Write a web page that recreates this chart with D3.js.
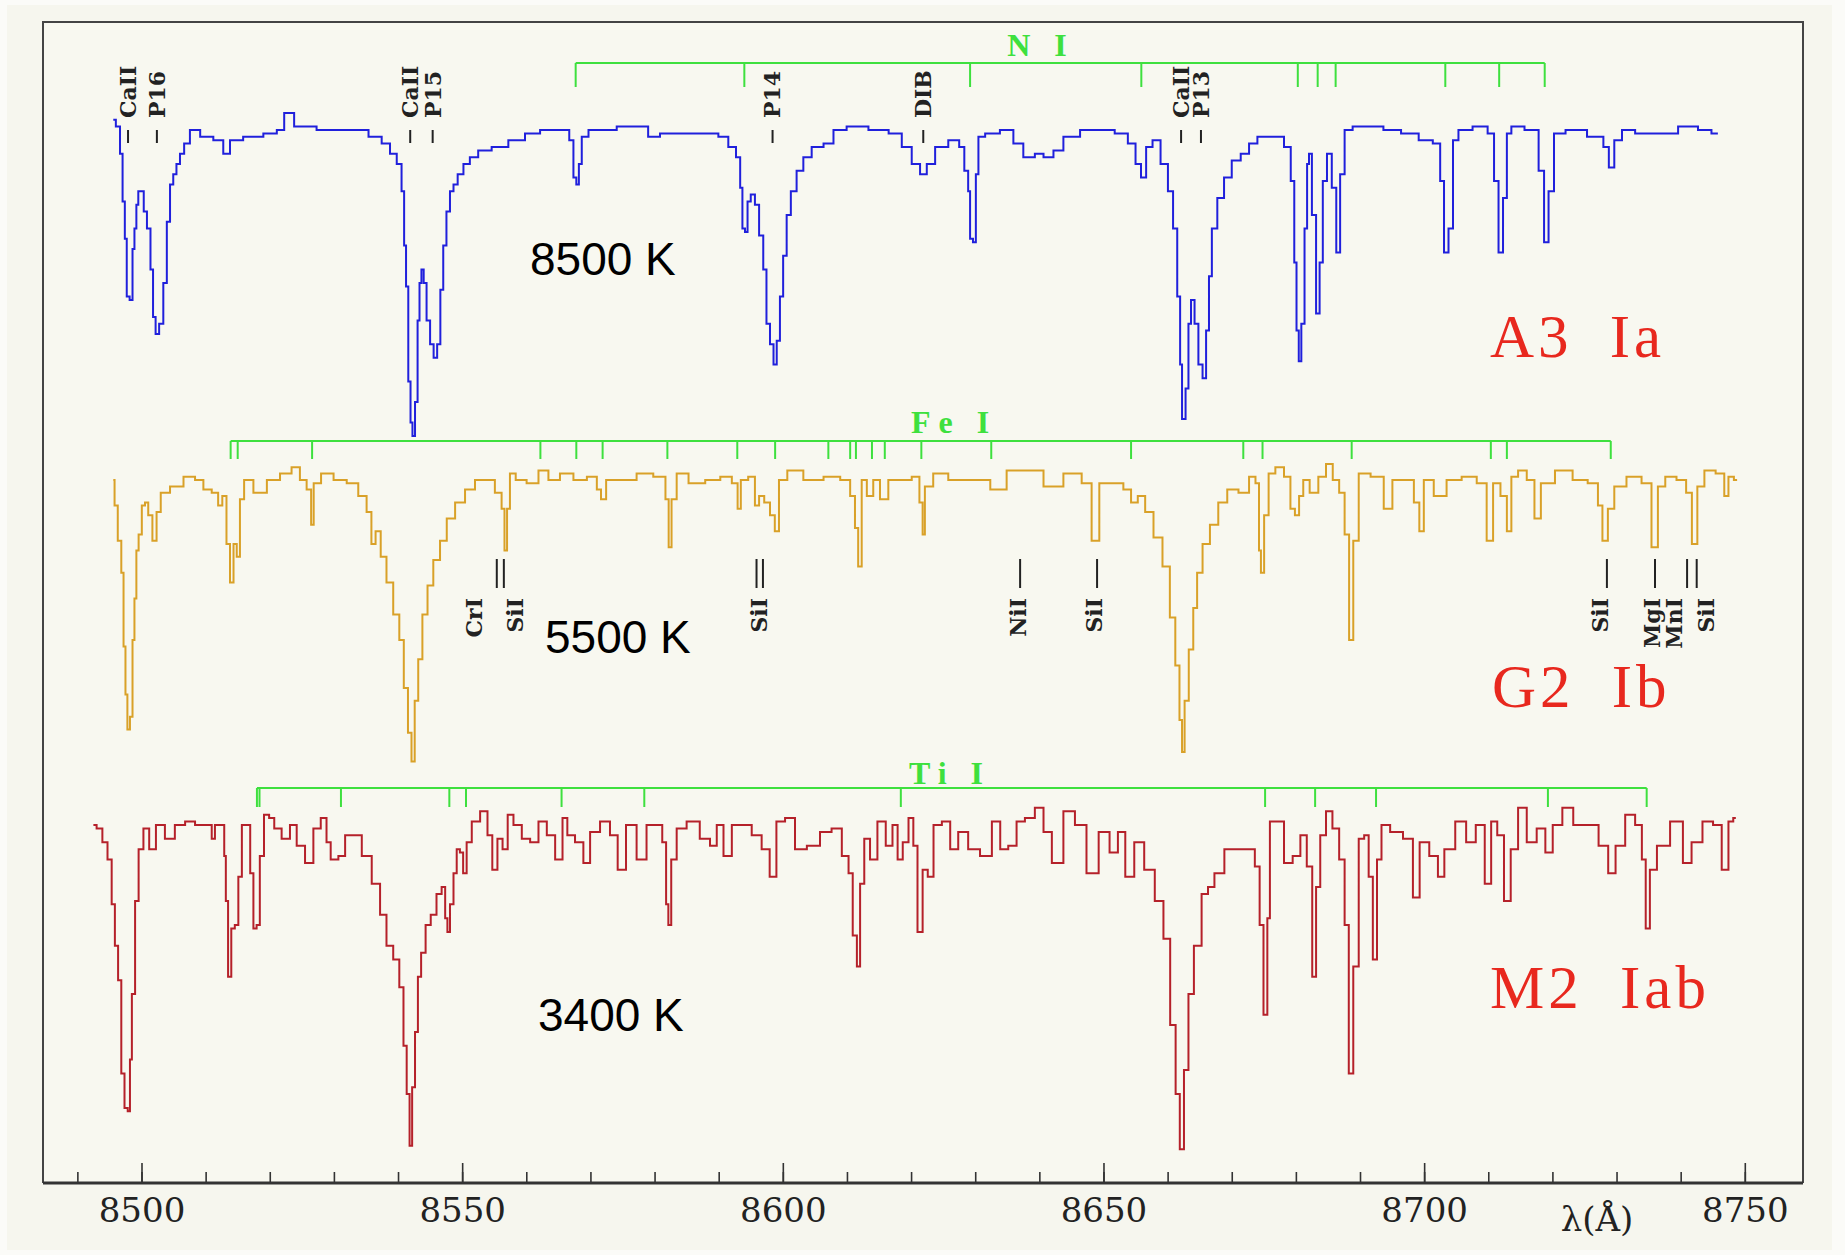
<!DOCTYPE html>
<html>
<head>
<meta charset="utf-8">
<script src="https://d3js.org/d3.v7.min.js"></script>
<style>
  body { margin: 0; background: #fbfbf8; }
  svg { display: block; }
  .axis text { font-family: 'DejaVu Serif', serif; font-size: 34px; fill: #222; }
  .axis line { stroke: #333; stroke-width: 1.6; }
  .ident { font-family: 'DejaVu Serif', serif; font-size: 22px; font-weight: bold; fill: #222; }
  .ident-dash { stroke: #222; stroke-width: 2; }
  .sp-type { font-family: 'Liberation Serif', serif; font-size: 61px; letter-spacing: 4px; word-spacing: 18px; fill: #e8281e; }
  .temp { font-family: 'Liberation Sans', Arial, sans-serif; font-size: 46px; fill: #000; }
  .bracket-label { font-family: 'Liberation Serif', serif; font-size: 32px; font-weight: bold; letter-spacing: 8px; fill: #3ee03e; }
</style>
</head>
<body>
<svg id="chart"></svg>
<script>
// Spectra: [wavelength (A), normalised flux]
const a3Spectrum = [[8495.6,1.03],[8496.4,1.01],[8496.9,0.93],[8497.2,0.79],[8497.6,0.68],[8497.8,0.51],[8498.5,0.50],[8498.7,0.65],[8499.1,0.71],[8499.3,0.78],[8499.7,0.82],[8500.2,0.82],[8500.5,0.76],[8501.2,0.71],[8501.6,0.59],[8502.0,0.45],[8502.4,0.40],[8503.1,0.43],[8503.7,0.55],[8504.2,0.73],[8504.7,0.84],[8505.2,0.87],[8505.7,0.90],[8506.3,0.93],[8507.0,0.96],[8508.1,1.00],[8510.2,0.98],[8512.2,0.97],[8513.3,0.93],[8514.3,0.97],[8517.4,0.98],[8520.6,0.99],[8521.6,1.00],[8522.9,1.05],[8524.7,1.01],[8529.9,1.00],[8534.1,1.00],[8536.7,0.98],[8538.2,0.96],[8539.3,0.93],[8540.3,0.90],[8540.8,0.82],[8541.1,0.66],[8541.4,0.54],[8541.8,0.26],[8542.1,0.14],[8542.4,0.10],[8542.9,0.20],[8543.2,0.44],[8543.5,0.55],[8543.8,0.59],[8544.2,0.55],[8544.7,0.44],[8545.3,0.37],[8545.8,0.33],[8546.4,0.37],[8546.8,0.53],[8547.3,0.66],[8547.8,0.76],[8548.4,0.82],[8548.9,0.84],[8549.7,0.87],[8550.7,0.90],[8551.7,0.92],[8553.3,0.94],[8555.9,0.95],[8558.5,0.97],[8561.1,0.99],[8563.2,1.00],[8566.3,1.00],[8567.1,0.97],[8567.6,0.86],[8568.0,0.84],[8568.4,0.90],[8568.9,0.98],[8570.5,1.00],[8577.7,1.01],[8580.3,0.98],[8581.4,0.99],[8589.2,0.99],[8590.7,0.98],[8592.3,0.95],[8593.1,0.92],[8593.6,0.83],[8593.8,0.71],[8594.4,0.70],[8594.6,0.79],[8595.4,0.81],[8595.9,0.78],[8596.7,0.69],[8597.2,0.59],[8597.7,0.43],[8598.3,0.37],[8598.8,0.31],[8599.3,0.38],[8599.8,0.51],[8600.3,0.63],[8600.9,0.75],[8601.6,0.82],[8602.7,0.88],[8603.7,0.92],[8605.3,0.95],[8607.4,0.96],[8608.4,1.00],[8611.5,1.01],[8615.2,1.00],[8617.8,0.99],[8619.3,0.95],[8620.9,0.90],[8621.9,0.87],[8623.0,0.90],[8624.5,0.95],[8627.1,0.97],[8627.9,0.95],[8628.7,0.88],[8629.1,0.82],[8629.3,0.68],[8630.0,0.67],[8630.2,0.87],[8630.8,0.98],[8632.3,0.99],[8635.4,1.00],[8636.5,0.96],[8638.5,0.92],[8640.1,0.93],[8641.2,0.92],[8643.2,0.94],[8644.3,0.98],[8648.4,1.00],[8650.4,1.00],[8653.1,0.99],[8654.5,0.96],[8655.5,0.90],[8656.2,0.86],[8657.1,0.95],[8658.2,0.97],[8659.6,0.90],[8660.5,0.82],[8661.2,0.71],[8661.8,0.51],[8662.1,0.31],[8662.4,0.15],[8663.2,0.24],[8663.3,0.43],[8664.0,0.50],[8664.4,0.43],[8665.2,0.31],[8665.7,0.27],[8666.3,0.41],[8666.6,0.57],[8667.2,0.71],[8668.3,0.80],[8669.3,0.86],[8670.7,0.91],[8672.1,0.93],[8673.3,0.96],[8674.7,0.98],[8677.5,0.98],[8678.8,0.95],[8679.6,0.85],[8679.9,0.61],[8680.3,0.41],[8680.6,0.32],[8681.1,0.43],[8681.6,0.71],[8681.9,0.90],[8682.2,0.93],[8682.8,0.75],[8683.5,0.46],[8683.9,0.61],[8684.5,0.85],[8685.2,0.93],[8686.0,0.83],[8686.6,0.64],[8687.2,0.87],[8688.0,1.00],[8689.7,1.01],[8692.3,1.01],[8695.0,1.00],[8697.8,0.99],[8700.5,0.97],[8702.2,0.96],[8702.8,0.85],[8703.4,0.64],[8704.2,0.71],[8704.8,0.97],[8705.9,1.00],[8709.2,1.01],[8710.6,0.99],[8711.2,0.85],[8712.0,0.64],[8712.6,0.80],[8713.2,0.99],[8714.0,1.01],[8717.3,1.00],[8718.4,0.88],[8719.0,0.67],[8719.8,0.82],[8720.7,0.99],[8723.4,1.00],[8727.4,0.98],[8728.5,0.95],[8729.1,0.89],[8730.2,0.97],[8731.5,1.00],[8734.3,0.99],[8737.6,0.99],[8741.6,1.01],[8743.8,1.00],[8745.8,0.99]];

const g2Spectrum = [[8495.6,1.00],[8496.0,0.92],[8496.6,0.81],[8497.1,0.71],[8497.3,0.48],[8497.7,0.33],[8497.9,0.22],[8498.5,0.26],[8498.7,0.50],[8499.1,0.63],[8499.3,0.78],[8499.8,0.83],[8500.3,0.92],[8500.8,0.93],[8501.3,0.89],[8502.1,0.81],[8502.6,0.90],[8503.4,0.96],[8505.5,0.98],[8507.6,1.01],[8509.1,1.00],[8510.2,0.97],[8511.7,0.96],[8512.2,0.92],[8513.0,0.95],[8513.5,0.80],[8514.1,0.68],[8514.6,0.80],[8515.1,0.76],[8515.6,0.94],[8516.4,1.00],[8518.5,0.96],[8520.6,1.00],[8522.6,1.02],[8524.2,1.04],[8525.2,1.00],[8526.3,0.97],[8526.6,0.86],[8527.1,0.99],[8528.9,1.02],[8531.0,1.00],[8533.0,0.99],[8534.6,0.95],[8535.6,0.90],[8536.1,0.80],[8536.9,0.84],[8537.7,0.76],[8538.7,0.68],[8539.8,0.58],[8540.6,0.50],[8541.2,0.35],[8541.9,0.21],[8542.3,0.12],[8542.9,0.31],[8543.4,0.44],[8544.2,0.58],[8545.0,0.67],[8546.0,0.75],[8547.1,0.81],[8548.1,0.88],[8549.7,0.93],[8551.2,0.97],[8552.8,1.00],[8554.3,1.00],[8555.9,0.96],[8556.4,0.91],[8556.8,0.78],[8557.2,0.91],[8557.7,1.02],[8559.0,1.00],[8561.1,0.99],[8562.7,1.03],[8564.2,1.00],[8566.3,1.02],[8568.4,1.00],[8570.5,1.01],[8571.5,0.97],[8571.8,0.94],[8573.1,1.00],[8576.2,1.00],[8578.2,1.02],[8581.4,1.01],[8582.0,0.94],[8582.4,0.79],[8582.9,0.94],[8584.0,1.02],[8586.6,0.99],[8589.2,1.00],[8591.3,1.01],[8592.8,0.99],[8593.1,0.91],[8593.8,1.00],[8595.4,1.01],[8595.9,0.92],[8596.7,0.95],[8597.5,0.93],[8598.5,0.89],[8599.0,0.84],[8599.8,1.00],[8601.6,1.03],[8604.8,1.00],[8607.9,1.01],[8610.0,1.00],[8611.0,0.95],[8611.5,0.85],[8612.0,0.73],[8612.6,1.00],[8613.6,0.95],[8614.6,1.00],[8615.7,0.94],[8617.2,1.00],[8619.3,1.00],[8620.9,1.01],[8621.7,0.93],[8621.9,0.83],[8622.4,0.98],[8624.5,1.02],[8627.1,1.00],[8630.8,1.00],[8633.9,0.97],[8635.9,1.03],[8639.1,1.03],[8642.2,0.98],[8645.3,1.02],[8647.9,0.99],[8648.4,0.81],[8649.1,0.81],[8649.6,0.99],[8652.4,0.99],[8653.8,0.97],[8654.8,0.93],[8655.9,0.95],[8657.1,0.90],[8658.5,0.82],[8659.9,0.73],[8660.8,0.57],[8661.6,0.42],[8662.1,0.25],[8662.4,0.15],[8662.9,0.31],[8663.7,0.47],[8664.3,0.60],[8664.9,0.71],[8666.0,0.80],[8667.2,0.86],[8668.6,0.93],[8670.0,0.97],[8672.1,0.96],[8673.3,1.01],[8674.1,0.99],[8674.4,0.78],[8674.7,0.71],[8675.4,0.89],[8676.1,1.02],[8677.5,1.04],[8678.8,1.01],[8679.5,0.91],[8680.2,0.89],[8680.8,0.95],[8681.5,1.00],[8682.8,0.96],[8684.2,1.01],[8685.2,1.05],[8686.3,1.00],[8687.2,0.96],[8688.0,0.83],[8688.6,0.50],[8689.3,0.81],[8690.3,1.02],[8693.0,1.01],[8694.4,0.91],[8695.7,1.00],[8697.7,1.00],[8699.1,0.93],[8699.4,0.84],[8700.5,1.00],[8702.5,0.95],[8704.5,1.00],[8707.2,1.01],[8709.2,0.99],[8710.3,0.81],[8711.2,0.99],[8712.6,0.95],[8713.2,0.84],[8714.0,1.01],[8715.3,1.03],[8716.7,1.00],[8717.7,0.88],[8718.7,0.99],[8722.1,1.03],[8724.2,1.00],[8726.8,0.99],[8727.4,0.92],[8728.2,0.81],[8729.1,0.91],[8730.2,0.98],[8732.9,1.01],[8734.9,0.99],[8736.0,0.79],[8736.9,0.98],[8738.3,1.01],[8740.4,1.00],[8741.3,0.96],[8742.2,0.80],[8743.0,0.98],[8744.4,1.03],[8746.5,1.02],[8747.1,0.95],[8747.8,1.01],[8748.8,1.00]];

const m2Spectrum = [[8492.5,1.00],[8493.5,0.99],[8494.3,0.95],[8495.1,0.90],[8495.6,0.77],[8496.1,0.65],[8496.6,0.55],[8497.1,0.28],[8497.6,0.18],[8498.1,0.17],[8498.3,0.32],[8498.7,0.51],[8499.3,0.78],[8499.8,0.93],[8500.8,0.99],[8501.6,0.93],[8502.9,1.00],[8504.4,0.96],[8506.0,1.00],[8507.6,1.01],[8509.1,1.00],[8510.7,1.00],[8511.2,0.96],[8511.7,1.00],[8512.8,1.00],[8513.0,0.91],[8513.3,0.78],[8513.7,0.56],[8514.3,0.70],[8514.8,0.71],[8515.4,0.85],[8515.9,1.00],[8516.7,1.00],[8517.2,0.86],[8517.7,0.70],[8518.2,0.71],[8518.7,0.91],[8519.5,1.03],[8520.3,1.02],[8521.1,0.99],[8522.6,0.96],[8523.7,1.00],[8524.7,0.94],[8526.3,0.89],[8527.3,0.99],[8528.6,1.02],[8529.1,0.95],[8529.9,0.90],[8531.5,0.91],[8532.0,0.97],[8533.6,0.97],[8535.1,0.91],[8536.7,0.83],[8537.7,0.74],[8538.7,0.65],[8539.8,0.61],[8540.6,0.53],[8541.1,0.36],[8541.6,0.22],[8542.0,0.07],[8542.4,0.24],[8542.9,0.40],[8543.3,0.56],[8543.9,0.63],[8544.7,0.71],[8545.5,0.74],[8546.5,0.80],[8547.1,0.82],[8547.6,0.73],[8547.8,0.69],[8548.4,0.77],[8548.9,0.86],[8549.4,0.93],[8549.9,0.92],[8550.4,0.86],[8551.0,0.95],[8552.0,1.01],[8553.6,1.04],[8554.3,0.97],[8555.1,0.87],[8555.9,0.96],[8556.7,0.93],[8557.5,1.03],[8558.5,1.00],[8560.1,0.96],[8561.1,0.95],[8562.7,1.01],[8563.7,0.97],[8565.3,0.90],[8566.0,1.02],[8566.8,0.97],[8568.4,0.95],[8569.4,0.89],[8570.5,0.98],[8572.5,1.01],[8573.6,0.97],[8574.9,0.87],[8576.2,1.00],[8578.2,0.90],[8579.3,1.00],[8580.8,1.00],[8581.6,0.95],[8582.0,0.77],[8582.3,0.71],[8582.9,0.90],[8584.0,0.99],[8586.0,1.01],[8588.1,0.96],[8589.2,0.94],[8590.2,1.00],[8591.3,0.91],[8592.8,1.00],[8594.4,1.00],[8595.9,0.97],[8597.5,0.93],[8598.4,0.85],[8599.6,1.01],[8601.1,1.02],[8602.7,0.93],[8604.8,0.94],[8606.8,0.98],[8608.4,0.99],[8610.0,0.91],[8610.5,0.86],[8611.3,0.68],[8611.8,0.59],[8612.3,0.83],[8613.1,0.96],[8614.1,0.90],[8615.4,1.01],[8616.7,0.94],[8617.5,1.00],[8618.3,0.90],[8619.1,0.95],[8620.1,1.02],[8620.6,0.94],[8621.4,0.69],[8622.2,0.87],[8623.0,0.85],[8624.0,1.00],[8625.6,1.01],[8626.6,0.93],[8628.1,0.98],[8629.7,0.93],[8631.8,0.91],[8633.4,1.01],[8634.4,0.93],[8635.9,0.94],[8637.0,1.01],[8638.5,1.02],[8640.1,1.05],[8641.2,0.98],[8642.7,0.89],[8644.8,1.04],[8646.3,1.00],[8648.4,0.86],[8650.1,0.98],[8651.8,0.92],[8652.7,0.98],[8654.1,0.85],[8655.5,0.95],[8657.2,0.87],[8658.8,0.78],[8659.9,0.67],[8660.9,0.42],[8661.6,0.22],[8662.2,0.06],[8662.9,0.29],[8663.6,0.51],[8664.6,0.65],[8666.0,0.80],[8666.6,0.82],[8668.0,0.86],[8669.7,0.93],[8671.4,0.93],[8673.1,0.93],[8674.1,0.88],[8674.6,0.71],[8675.3,0.45],[8675.8,0.73],[8676.1,1.01],[8677.5,1.01],[8678.8,0.89],[8680.2,0.91],[8681.2,0.97],[8682.2,0.88],[8682.9,0.56],[8683.4,0.82],[8684.2,0.97],[8685.2,1.04],[8686.2,0.99],[8687.3,0.90],[8687.9,0.71],[8688.6,0.28],[8689.3,0.59],[8690.3,0.96],[8691.0,0.97],[8691.7,0.85],[8692.3,0.61],[8693.0,0.90],[8693.7,1.00],[8695.7,0.98],[8697.7,0.96],[8698.8,0.79],[8699.8,0.95],[8701.8,0.91],[8702.5,0.85],[8703.8,0.93],[8705.9,1.01],[8707.2,0.95],[8708.9,1.00],[8710.0,0.83],[8710.9,1.01],[8711.9,0.97],[8713.0,0.78],[8714.0,0.93],[8715.3,1.05],[8716.7,0.95],[8718.4,0.99],[8719.4,0.92],[8720.7,1.00],[8722.4,1.05],[8724.1,1.00],[8726.2,1.00],[8728.2,0.94],[8729.2,0.86],[8730.5,0.94],[8732.2,1.03],[8733.6,1.00],[8734.3,0.90],[8734.8,0.70],[8735.6,0.87],[8737.0,0.94],[8739.7,1.01],[8741.0,0.89],[8742.4,0.95],[8744.4,1.01],[8745.7,1.00],[8747.1,0.87],[8747.8,1.01],[8748.6,1.02]];

// Line lists (wavelengths, A) marked by the green brackets
const nILines = [8567.7, 8594.0, 8629.2, 8655.9, 8680.3, 8683.4, 8686.2, 8703.3, 8711.7, 8718.8];
const feILines = [8513.9, 8515.0, 8526.6, 8562.2, 8567.8, 8571.9, 8582.0, 8592.9, 8598.8, 8607.1, 8610.5, 8611.4, 8613.9, 8615.9, 8621.6, 8632.5, 8654.3, 8671.8, 8674.8, 8688.7, 8710.4, 8712.9, 8729.1];
const tiILines = [8518.0, 8518.4, 8531.1, 8548.0, 8550.6, 8565.5, 8578.4, 8618.4, 8675.2, 8683.0, 8692.5, 8719.3, 8734.7];

// Identified features
const a3Idents = [
  {label: 'CaII', wl: 8497.9}, {label: 'P16', wl: 8502.4},
  {label: 'CaII', wl: 8541.9}, {label: 'P15', wl: 8545.4},
  {label: 'P14', wl: 8598.4}, {label: 'DIB', wl: 8621.9},
  {label: 'CaII', wl: 8662.1}, {label: 'P13', wl: 8665.2}
];
const g2Idents = [
  {label: 'CrI', lines: [8555.4], at: 8551.8},
  {label: 'SiI', lines: [8556.5], at: 8558.2},
  {label: 'SiI', lines: [8595.9, 8596.9], at: 8596.3},
  {label: 'NiI', lines: [8637.0], at: 8636.7},
  {label: 'SiI', lines: [8649.0], at: 8648.5},
  {label: 'SiI', lines: [8728.5], at: 8727.4},
  {label: 'MgI', lines: [8736.0], at: 8735.6},
  {label: 'MnI', lines: [8741.0], at: 8739.0},
  {label: 'SiI', lines: [8742.5], at: 8744.0}
];

const spectralTypes = ['A3 Ia', 'G2 Ib', 'M2 Iab'];
const temperatures = ['8500 K', '5500 K', '3400 K'];
const majorTicks = d3.range(8500, 8751, 50);
const minorTicks = d3.range(8490, 8751, 10);

class SpectraChart {

  constructor(_config, _panels) {
    this.config = {
      parentElement: _config.parentElement,
      containerWidth: _config.containerWidth || 1845,
      containerHeight: _config.containerHeight || 1255,
      frame: _config.frame || {left: 43, top: 22, right: 1803, bottom: 1183}
    };
    this.panels = _panels;
    this.initVis();
  }

  initVis() {
    let vis = this;
    const f = vis.config.frame;

    vis.svg = d3.select(vis.config.parentElement)
        .attr('width', vis.config.containerWidth)
        .attr('height', vis.config.containerHeight);

    // page and plot backgrounds
    vis.svg.append('rect')
        .attr('x', 7).attr('y', 5)
        .attr('width', 1825).attr('height', 1245)
        .attr('fill', '#f6f6ee');
    vis.svg.append('rect')
        .attr('x', f.left).attr('y', f.top)
        .attr('width', f.right - f.left).attr('height', f.bottom - f.top)
        .attr('fill', '#f8f8f0');

    vis.xScale = d3.scaleLinear()
        .domain([8500, 8750])
        .range([141.5, 1744.8]);

    vis.xAxisMinor = d3.axisBottom(vis.xScale)
        .tickValues(minorTicks)
        .tickSize(-11)
        .tickFormat('');

    vis.xAxisMajor = d3.axisBottom(vis.xScale)
        .tickValues(majorTicks)
        .tickSize(-20)
        .tickPadding(15)
        .tickFormat(d3.format('d'));

    vis.minorG = vis.svg.append('g')
        .attr('class', 'axis')
        .attr('transform', `translate(0,${f.bottom})`);
    vis.majorG = vis.svg.append('g')
        .attr('class', 'axis')
        .attr('transform', `translate(0,${f.bottom})`);

    // frame: left, top, right, plus heavier bottom axis line
    vis.svg.append('path')
        .attr('d', `M${f.left},${f.bottom}V${f.top}H${f.right}V${f.bottom}`)
        .attr('fill', 'none')
        .attr('stroke', '#444')
        .attr('stroke-width', 2);
    vis.svg.append('line')
        .attr('x1', f.left).attr('x2', f.right)
        .attr('y1', f.bottom).attr('y2', f.bottom)
        .attr('stroke', '#333')
        .attr('stroke-width', 3);

    vis.svg.append('text')
        .attr('class', 'axis-title')
        .attr('x', 1597)
        .attr('y', 1231)
        .attr('text-anchor', 'middle')
        .style('font-family', "'DejaVu Serif', serif")
        .style('font-size', '34px')
        .style('fill', '#222')
        .text('λ(Å)');

    vis.chart = vis.svg.append('g');
  }

  updateVis() {
    let vis = this;
    // one y scale per spectrum, flux 0..1 onto its own band
    vis.panels.forEach(p => {
      p.yScale = d3.scaleLinear().domain([0, 1]).range(p.yRange);
    });
    vis.renderVis();
  }

  renderVis() {
    let vis = this;

    vis.minorG.call(vis.xAxisMinor).call(g => g.select('.domain').remove());
    vis.majorG.call(vis.xAxisMajor).call(g => g.select('.domain').remove());
    vis.svg.selectAll('.axis').attr('font-family', null).attr('font-size', null);

    vis.panels.forEach(p => {
      const g = vis.chart.append('g');

      // line-list bracket
      const b = p.bracket;
      const x0 = vis.xScale(d3.min(b.lines)), x1 = vis.xScale(d3.max(b.lines));
      g.append('line')
          .attr('x1', x0).attr('x2', x1)
          .attr('y1', b.y).attr('y2', b.y)
          .attr('stroke', '#3ee03e').attr('stroke-width', 2);
      g.selectAll('.bracket-tick')
          .data(b.lines)
        .join('line')
          .attr('class', 'bracket-tick')
          .attr('x1', d => vis.xScale(d)).attr('x2', d => vis.xScale(d))
          .attr('y1', b.y).attr('y2', b.y + b.tick)
          .attr('stroke', '#3ee03e').attr('stroke-width', 2);
      g.append('text')
          .attr('class', 'bracket-label')
          .attr('x', b.labelX).attr('y', b.labelY)
          .attr('text-anchor', 'middle')
          .text(b.label);

      // spectrum, drawn as a stepped trace like the original plot
      const line = d3.line()
          .curve(d3.curveStep)
          .x(d => vis.xScale(d[0]))
          .y(d => p.yScale(d[1]));
      g.append('path')
          .datum(p.data)
          .attr('fill', 'none')
          .attr('stroke', p.color)
          .attr('stroke-width', 2)
          .attr('d', line);

      // identifications above the spectrum
      if (p.identsAbove) {
        const id = p.identsAbove;
        g.selectAll('.dash-a')
            .data(id.items)
          .join('line')
            .attr('class', 'ident-dash dash-a')
            .attr('x1', d => vis.xScale(d.wl)).attr('x2', d => vis.xScale(d.wl))
            .attr('y1', id.dashTop).attr('y2', id.dashBottom);
        g.selectAll('.txt-a')
            .data(id.items)
          .join('text')
            .attr('class', 'ident txt-a')
            .attr('transform', d => `translate(${vis.xScale(d.wl)},${id.textY}) rotate(-90)`)
            .attr('dy', '0.36em')
            .attr('text-anchor', 'start')
            .text(d => d.label);
      }

      // identifications below the spectrum
      if (p.identsBelow) {
        const id = p.identsBelow;
        const dashes = id.items.flatMap(d => d.lines);
        g.selectAll('.dash-b')
            .data(dashes)
          .join('line')
            .attr('class', 'ident-dash dash-b')
            .attr('x1', d => vis.xScale(d)).attr('x2', d => vis.xScale(d))
            .attr('y1', id.dashTop).attr('y2', id.dashBottom);
        g.selectAll('.txt-b')
            .data(id.items)
          .join('text')
            .attr('class', 'ident txt-b')
            .attr('transform', d => `translate(${vis.xScale(d.at)},${id.textY}) rotate(-90)`)
            .attr('dy', '0.36em')
            .attr('text-anchor', 'end')
            .text(d => d.label);
      }

      g.append('text')
          .attr('class', 'temp')
          .attr('x', p.tempPos[0]).attr('y', p.tempPos[1])
          .text(p.temp);

      g.append('text')
          .attr('class', 'sp-type')
          .attr('x', p.typePos[0]).attr('y', p.typePos[1])
          .text(p.type);
    });
  }
}

const chart = new SpectraChart({parentElement: '#chart'}, [
  {
    data: a3Spectrum, color: '#2020dc', yRange: [470, 130],
    type: spectralTypes[0], typePos: [1490, 357],
    temp: temperatures[0], tempPos: [530, 275],
    bracket: {label: 'N I', lines: nILines, y: 63, tick: 24, labelX: 1041, labelY: 56},
    identsAbove: {items: a3Idents, dashTop: 130, dashBottom: 143, textY: 118}
  },
  {
    data: g2Spectrum, color: '#d9a128', yRange: [800, 480],
    type: spectralTypes[1], typePos: [1492, 707],
    temp: temperatures[1], tempPos: [545, 653],
    bracket: {label: 'Fe I', lines: feILines, y: 441, tick: 18, labelX: 954, labelY: 433},
    identsBelow: {items: g2Idents, dashTop: 559, dashBottom: 588, textY: 598}
  },
  {
    data: m2Spectrum, color: '#b5212a', yRange: [1170, 825],
    type: spectralTypes[2], typePos: [1490, 1008],
    temp: temperatures[2], tempPos: [538, 1031],
    bracket: {label: 'Ti I', lines: tiILines, y: 788, tick: 19, labelX: 950, labelY: 784}
  }
]);
chart.updateVis();
</script>
</body>
</html>
